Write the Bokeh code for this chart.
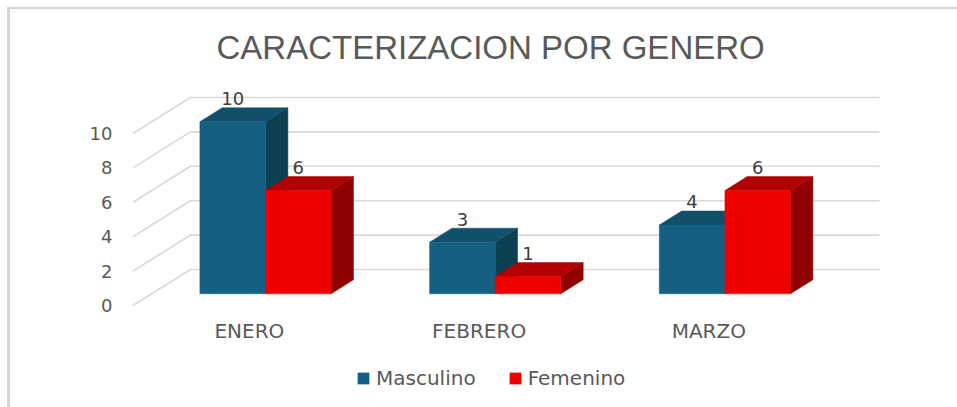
from bokeh.plotting import figure
from bokeh.models import Range1d, LinearAxis, FixedTicker, Legend, LegendItem, ColumnDataSource
from bokeh.core.properties import value
from bokeh.embed import file_html
from bokeh.resources import INLINE

TITLE = "CARACTERIZACION POR GENERO"
categories = ["ENERO", "FEBRERO", "MARZO"]
masculino = [10, 3, 4]
femenino = [6, 1, 6]
y_ticks = [0, 2, 4, 6, 8, 10]

BLUE = ("#156082", "#124F6A", "#0D3F52")
RED = ("#EE0000", "#B30000", "#8F0000")
TXT = "#595959"
FONT = "Liberation Sans"
FONT2 = "DejaVu Sans"

OX, OY = 10, 9                           # canvas origin in window pixels
FL, FR, FT, FB = 125, 940, 80, 398       # frame in window pixels
PX_X, PX_Y = 229.7, 17.2                 # pixels per data unit
X0_PX, Y0_PX = 265, 305                  # window pixel of x=0 and y=0 (front floor)
DX, DY = 57.5 / PX_X, 36 / PX_Y          # full depth offset in data units
D0, D1 = 0.325, 0.714                    # bar depth span
BW = 65.6 / PX_X

p = figure(frame_width=FR - FL, frame_height=FB - FT, output_backend="svg", toolbar_location=None,
           x_range=Range1d((FL - X0_PX) / PX_X, (FR - X0_PX) / PX_X),
           y_range=Range1d((Y0_PX - FB) / PX_Y, (Y0_PX - FT) / PX_Y),
           x_axis_type=None, y_axis_type=None,
           min_border_left=FL - OX, min_border_right=17,
           min_border_top=FT - OY, min_border_bottom=407 - FB)
p.styles = {"margin-left": "7px", "margin-top": "7px",
            "border-left": "3px solid #D6D6D6", "border-top": "2px solid #D6D6D6"}
p.outline_line_color = None
p.grid.visible = False
p.background_fill_color = "white"
p.border_fill_color = "white"

p.title.text = TITLE
p.title.text_font = FONT
p.title.text_font_size = "33px"
p.title.text_font_style = "normal"
p.title.text_color = TXT
p.title.align = "left"
p.title.offset = 216 - FL
p.title.standoff = 29

gl, gr, gb = -0.577, 2.673, DX
for v in y_ticks:
    p.line([gl, gl + gb, gr], [v, v + DY, v + DY], line_color="#D9D9D9", line_width=1.6)

def bar(xl, v, cols):
    xr = xl + BW
    a, b = D0, D1
    front = ([xl, xr, xr, xl], [a * DY, a * DY, v + a * DY, v + a * DY])
    top = ([xl, xr, xr + (b - a) * DX, xl + (b - a) * DX],
           [v + a * DY, v + a * DY, v + b * DY, v + b * DY])
    side = ([xr, xr + (b - a) * DX, xr + (b - a) * DX, xr],
            [a * DY, b * DY, v + b * DY, v + a * DY])
    p.patch(*side, fill_color=cols[2], line_color=cols[2], line_width=0.5)
    p.patch(*top, fill_color=cols[1], line_color=cols[1], line_width=0.5)
    return p.patch(*front, fill_color=cols[0], line_color=cols[0], line_width=0.5)

rm = rf = None
for i in range(len(categories)):
    rm = bar(i - BW, masculino[i], BLUE)
    rf = bar(i, femenino[i], RED)

lab_x, lab_y, lab_t = [], [], []
for i in range(len(categories)):
    lab_x += [i - BW / 2, i + BW / 2]
    lab_y += [masculino[i] + D1 * DY, femenino[i] + D1 * DY]
    lab_t += [str(masculino[i]), str(femenino[i])]
p.text(x="x", y="y", text="t", source=ColumnDataSource(dict(x=lab_x, y=lab_y, t=lab_t)),
       text_align="center", text_baseline="alphabetic", text_color="#404040", y_offset=-9,
       text_font=value(FONT2), text_font_size="18px")

ya = LinearAxis(ticker=FixedTicker(ticks=y_ticks))
ya.axis_line_color = None
ya.major_tick_line_color = None
ya.minor_tick_line_color = None
ya.major_label_standoff = 7
ya.major_label_text_font = FONT2
ya.major_label_text_font_size = "18px"
ya.major_label_text_color = TXT
p.add_layout(ya, "left")

xa = LinearAxis(ticker=FixedTicker(ticks=[i - 0.07 for i in range(len(categories))]),
                major_label_overrides={i - 0.07: c for i, c in enumerate(categories)})
xa.axis_line_color = None
xa.major_tick_line_color = None
xa.minor_tick_line_color = None
xa.major_label_standoff = -86
xa.major_label_text_font = FONT2
xa.major_label_text_font_size = "20px"
xa.major_label_text_color = TXT
p.add_layout(xa, "below")

leg = Legend(items=[LegendItem(label="Masculino", renderers=[rm]),
                    LegendItem(label="Femenino", renderers=[rf])],
             orientation="horizontal", location=(231, 8),
             border_line_color=None, background_fill_alpha=0,
             glyph_width=14, glyph_height=14, spacing=32, label_standoff=6,
             label_text_font=FONT2, label_text_font_size="20px", label_text_color=TXT,
             margin=0, padding=0)
p.add_layout(leg)

open("out.html", "w").write(file_html(p, INLINE))
